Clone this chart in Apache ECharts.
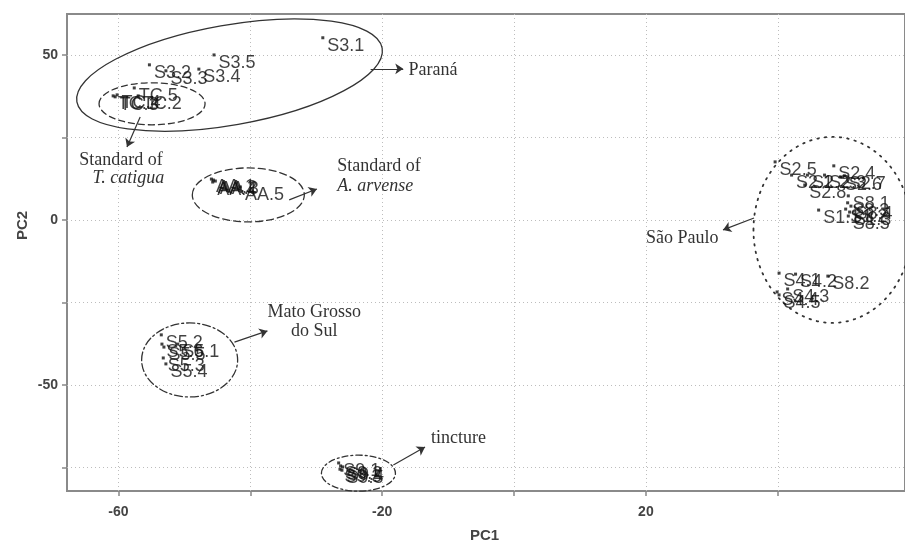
<!DOCTYPE html>
<html>
<head>
  <meta charset="UTF-8">
  <title>PCA</title>
  <script src="https://cdn.jsdelivr.net/npm/echarts@6/dist/echarts.min.js"></script>
</head>
<body style="margin:0">
  <div id="main" style="width:905px;height:546px;"></div>
  <script>
    // tick positions / labelled ticks
    const xTicks = [-60, -40, -20, 0, 20, 40]
    const xLabels = [-60, -20, 20]
    const yTicks = [-75, -50, -25, 0, 25, 50]
    const yLabels = [-50, 0, 50]

    // samples: [PC1, PC2, name]
    const parana = [[-29.0, 55.2, 'S3.1'], [-45.5, 50.0, 'S3.5'], [-55.3, 47.0, 'S3.2'], [-52.8, 45.2, 'S3.3'], [-47.8, 45.7, 'S3.4']]
    const stdCatigua = [[-60.8, 37.6, 'TC.1'], [-57.0, 37.6, 'TC.2'], [-60.5, 37.3, 'TC.3'], [-60.2, 37.9, 'TC.4'], [-57.6, 40.0, 'TC.5']]
    const stdArvense = [[-45.9, 12.4, 'AA.1'], [-45.6, 12.1, 'AA.2'], [-45.3, 11.8, 'AA.3'], [-45.7, 11.5, 'AA.4'], [-41.5, 10.0, 'AA.5']]
    const matoGrosso = [[-53.5, -34.8, 'S5.2'], [-51.0, -37.6, 'S5.1'], [-53.4, -37.6, 'S5.6'], [-53.1, -38.5, 'S5.5'], [-53.2, -41.8, 'S5.3'], [-52.8, -43.6, 'S5.4']]
    const tincture = [[-26.6, -73.6, 'S9.1'], [-26.3, -74.5, 'S9.2'], [-26.4, -75.5, 'S9.3'], [-26.0, -74.8, 'S9.4'], [-26.1, -75.8, 'S9.5']]
    const saoPaulo = [
      [39.6, 17.6, 'S2.5'], [42.1, 13.6, 'S2.1'], [44.5, 13.6, 'S2.2'], [47.1, 13.6, 'S2.3'], [48.5, 16.4, 'S2.4'],
      [49.5, 13.0, 'S2.6'], [50.1, 13.4, 'S2.7'], [44.1, 10.6, 'S2.8'],
      [46.2, 3.0, 'S1.1'], [50.3, 3.3, 'S1.2'], [50.9, 2.4, 'S1.3'],
      [50.7, 7.3, 'S8.1'], [50.6, 5.2, 'S8.3'], [51.1, 4.2, 'S8.4'], [50.7, 1.2, 'S8.5'],
      [40.2, -16.1, 'S4.1'], [42.7, -16.4, 'S4.2'], [47.6, -17.0, 'S8.2'], [41.5, -20.9, 'S4.3'], [39.9, -21.8, 'S4.4'], [40.2, -22.7, 'S4.5']
    ]

    // annotations (data coords for centres / ends)
    const ellipses = [
      { c: [-43.15, 43.9], rx: 155, ry: 50, rot: 10, dash: null },
      { c: [-54.9, 35.2], rx: 53, ry: 21, rot: 0, dash: [6, 4] },
      { c: [-40.3, 7.6], rx: 56, ry: 27, rot: 0, dash: [7, 4] },
      { c: [-49.2, -42.4], rx: 48, ry: 37, rot: 0, dash: [8, 3, 2, 3] },
      { c: [-23.6, -76.7], rx: 37, ry: 18, rot: 0, dash: [6, 3, 2, 3] },
      { c: [48.3, -3.0], rx: 79, ry: 93, rot: 0, dash: [1.5, 6] }
    ]
    const arrows = [
      [-21.75, 45.8, -16.8, 45.8],
      [-56.7, 31.2, -58.7, 22.1],
      [-34.1, 6.1, -29.9, 9.4],
      [-42.4, -37.0, -37.4, -33.6],
      [-18.3, -74.2, -13.5, -68.8],
      [36.4, 0.6, 31.7, -3.0]
    ]
    const notes = [
      { at: [-16.0, 45.5], text: 'Paraná', align: 'left' },
      { at: [-59.6, 18.2], text: 'Standard of', align: 'center' },
      { at: [-58.5, 12.7], text: 'T. catigua', align: 'center', italic: true },
      { at: [-26.8, 16.4], text: 'Standard of', align: 'left' },
      { at: [-26.8, 10.3], text: 'A. arvense', align: 'left', italic: true },
      { at: [-30.3, -27.9], text: 'Mato Grosso', align: 'center' },
      { at: [-30.3, -33.6], text: 'do Sul', align: 'center' },
      { at: [-12.6, -66.1], text: 'tincture', align: 'left' },
      { at: [31.0, -5.5], text: 'São Paulo', align: 'right' }
    ]

    const chart = echarts.init(document.getElementById('main'))

    const tickFont = { fontFamily: 'Liberation Sans Narrow, Liberation Sans, sans-serif', fontWeight: 'bold', fontSize: 14, color: '#444' }
    const dotted = { color: '#bdbdbd', type: [1, 3], width: 1 }

    function samples(data) {
      return {
        type: 'scatter',
        data: data,
        symbol: 'rect',
        symbolSize: 3,
        itemStyle: { color: '#111' },
        label: {
          show: true,
          position: 'right',
          distance: 3,
          formatter: p => p.value[2],
          fontFamily: 'Liberation Sans, Arial, sans-serif',
          fontSize: 18,
          color: '#111'
        },
        labelLayout: { dy: 8, hideOverlap: false },
        silent: true,
        animation: false
      }
    }

    const option = {
      animation: false,
      grid: { left: 67, right: -5, top: 14, bottom: 55, show: true, borderColor: '#8a8a8a', borderWidth: 2 },
      xAxis: {
        type: 'value', min: -67.8, max: 59.3,
        axisLine: { show: false, onZero: false },
        axisTick: { customValues: xTicks, length: 5, lineStyle: { color: '#888', width: 1.5 } },
        axisLabel: Object.assign({ customValues: xLabels, margin: 14 }, tickFont),
        splitLine: { show: true, lineStyle: dotted }
      },
      yAxis: {
        type: 'value', min: -82.1, max: 62.4,
        axisLine: { show: false, onZero: false },
        axisTick: { customValues: yTicks, length: 5, lineStyle: { color: '#888', width: 1.5 } },
        axisLabel: Object.assign({ customValues: yLabels, margin: 9 }, tickFont),
        splitLine: { show: true, lineStyle: dotted }
      },
      graphic: [
        { type: 'text', left: 470, top: 528, style: { text: 'PC1', font: 'bold 15px Liberation Sans Narrow, Liberation Sans, sans-serif', fill: '#444' } },
        { type: 'text', x: 15, y: 240, rotation: Math.PI / 2, style: { text: 'PC2', font: 'bold 15px Liberation Sans Narrow, Liberation Sans, sans-serif', fill: '#444' } }
      ],
      series: [
        samples(parana),
        samples(stdCatigua),
        samples(stdArvense),
        samples(matoGrosso),
        samples(tincture),
        samples(saoPaulo),
        {
          type: 'custom',
          silent: true,
          data: ellipses.map(e => e.c),
          renderItem(params, api) {
            const e = ellipses[params.dataIndex]
            const p = api.coord([api.value(0), api.value(1)])
            return {
              type: 'ellipse',
              x: p[0], y: p[1],
              rotation: e.rot * Math.PI / 180,
              shape: { cx: 0, cy: 0, rx: e.rx, ry: e.ry },
              style: { fill: 'none', stroke: '#333', lineWidth: e.dash && e.dash[0] < 2 ? 1.8 : 1.3, lineDash: e.dash || null, lineCap: 'round' }
            }
          }
        },
        {
          type: 'custom',
          silent: true,
          data: notes.map(n => n.at),
          renderItem(params, api) {
            const n = notes[params.dataIndex]
            const p = api.coord([api.value(0), api.value(1)])
            return {
              type: 'text',
              x: p[0], y: p[1],
              style: {
                text: n.text,
                font: (n.italic ? 'italic ' : '') + '18px Liberation Serif, Times New Roman, serif',
                fill: '#333',
                align: n.align,
                verticalAlign: 'middle'
              }
            }
          }
        },
        {
          type: 'scatter',
          data: [],
          markLine: {
            silent: true,
            animation: false,
            symbol: ['none', 'arrow'],
            symbolSize: 8,
            label: { show: false },
            lineStyle: { color: '#333', type: 'solid', width: 1.2 },
            data: arrows.map(a => [{ coord: [a[0], a[1]] }, { coord: [a[2], a[3]] }])
          }
        }
      ]
    }

    chart.setOption(option)
  </script>
</body>
</html>
